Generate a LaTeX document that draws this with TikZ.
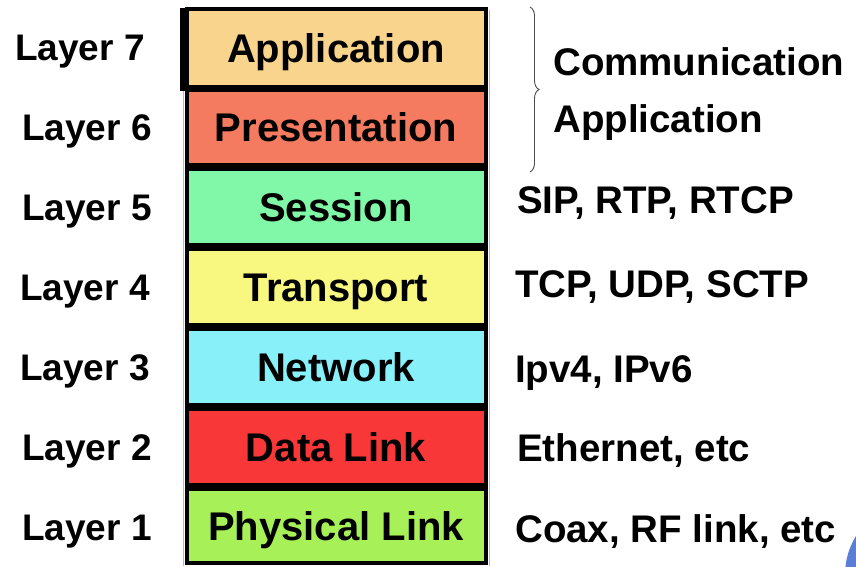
\documentclass[tikz,border=0pt]{standalone}
\usepackage{fontspec}
\setmainfont{Liberation Sans}
\usetikzlibrary{decorations.pathreplacing}
\definecolor{cApp}{HTML}{F8D48C}
\definecolor{cPres}{HTML}{F47A60}
\definecolor{cSess}{HTML}{80F8A8}
\definecolor{cTrans}{HTML}{F8F880}
\definecolor{cNet}{HTML}{88F0F8}
\definecolor{cData}{HTML}{F83838}
\definecolor{cPhys}{HTML}{A8F058}
\definecolor{cBlue}{HTML}{5A7ED6}
\tikzset{
  layerbox/.style={draw=black, line width=4pt, minimum width=299pt, inner sep=0pt,
    text height=28pt, text depth=0pt,
    font=\fontsize{40}{44}\selectfont\bfseries},
  sidelabel/.style={inner sep=0pt, anchor=base west, font=\fontsize{37}{42}\selectfont\bfseries},
  rightlabel/.style={sidelabel, font=\fontsize{38.5}{42}\selectfont\bfseries},
}
\begin{document}
\begin{tikzpicture}[x=1pt,y=-1pt]
\useasboundingbox (0,0) rectangle (856,566);
\clip (0,0) rectangle (856,566);
\fill[white] (0,0) rectangle (856,566);
% faint edges
\draw[gray!55, line width=0.8pt] (183,90) -- (183,566);
\draw[gray!55, line width=0.8pt] (489,10) -- (489,566);
% shadow of top box
\fill[black] (180,8) rectangle (486,91);
% boxes
\node[layerbox, fill=cApp,   minimum height=77.25pt] (L7) at (336,48.1)  {Application};
\node[layerbox, fill=cPres,  minimum height=75pt]    (L6) at (336,127.75) {Presentation};
\node[layerbox, fill=cSess,  minimum height=76.5pt]  (L5) at (336,207)   {Session};
\node[layerbox, fill=cTrans, minimum height=76.5pt]  (L4) at (336,287)   {Transport};
\node[layerbox, fill=cNet,   minimum height=76.5pt]  (L3) at (336,367)   {Network};
\node[layerbox, fill=cData,  minimum height=76.5pt]  (L2) at (336,447)   {Data Link};
\node[layerbox, fill=cPhys,  minimum height=74.75pt] (L1) at (336,526.1) {Physical Link};
% left labels
\node[sidelabel] (n7) at (15,60)  {Layer 7};
\node[sidelabel] (n6) at (22,140) {Layer 6};
\node[sidelabel] (n5) at (22,220) {Layer 5};
\node[sidelabel] (n4) at (20,300) {Layer 4};
\node[sidelabel] (n3) at (20,380) {Layer 3};
\node[sidelabel] (n2) at (22,460) {Layer 2};
\node[sidelabel] (n1) at (22,540) {Layer 1};
% right labels
\coordinate (bt) at (530,7);
\coordinate (bb) at (530,172);
\draw[gray!60!black, line width=0.9pt, decorate, decoration={brace, amplitude=9pt}] (bt) -- (bb);
\node[rightlabel] (r7a) at (553,75)  {Communication};
\node[rightlabel] (r7b) at (553,132) {Application};
\node[rightlabel] (r5) at (517,213) {SIP, RTP, RTCP};
\node[rightlabel] (r4) at (515,297) {TCP, UDP, SCTP};
\node[rightlabel] (r3) at (515,382) {Ipv4, IPv6};
\node[rightlabel] (r2) at (517,461) {Ethernet, etc};
\node[rightlabel] (r1) at (515,542) {Coax, RF link, etc};
% corner artefact
\fill[cBlue] (920,575) circle (75);
\end{tikzpicture}
\end{document}
